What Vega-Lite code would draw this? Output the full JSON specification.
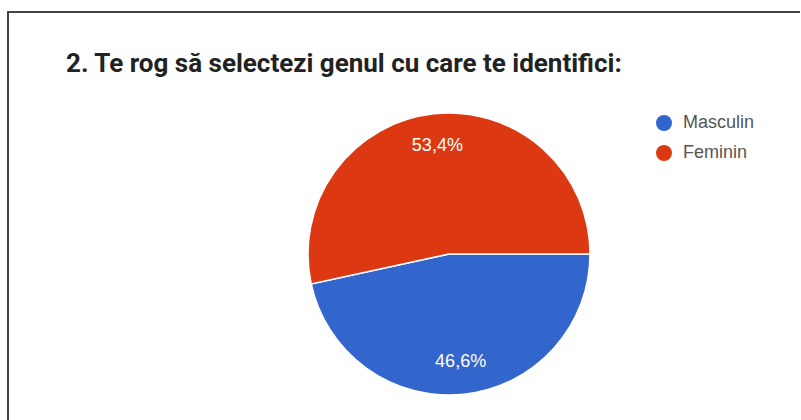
{
  "$schema": "https://vega.github.io/schema/vega-lite/v6.json",
  "autosize": "none",
  "width": 793,
  "height": 408,
  "padding": {"left": 8, "top": 12, "right": 0, "bottom": 0},
  "background": "#ffffff",
  "view": {
    "stroke": "#444444",
    "strokeWidth": 2,
    "strokeDash": [792, 1202, 408]
  },
  "title": {
    "text": "2. Te rog să selectezi genul cu care te identifici:",
    "anchor": "start",
    "frame": "group",
    "orient": "top",
    "offset": -86,
    "dx": 58,
    "baseline": "alphabetic",
    "font": "Roboto",
    "fontSize": 26,
    "fontWeight": "bold",
    "color": "#222222"
  },
  "data": {
    "values": [
      {"gen": "Masculin", "pct": 46.6, "label": "46,6%"},
      {"gen": "Feminin", "pct": 53.4, "label": "53,4%"}
    ]
  },
  "encoding": {
    "theta": {
      "field": "pct",
      "type": "quantitative",
      "stack": true,
      "scale": {"domain": [0, 100], "range": [1.5707963, 7.8539816]}
    },
    "order": {"field": "pct", "sort": "ascending"}
  },
  "layer": [
    {
      "mark": {
        "type": "arc",
        "outerRadius": 141,
        "x": {"expr": "width/2 + 44.5"},
        "y": {"expr": "height/2 + 38"},
        "stroke": "#ffffff",
        "strokeWidth": 1.5
      },
      "encoding": {
        "color": {
          "field": "gen",
          "type": "nominal",
          "scale": {"domain": ["Masculin", "Feminin"], "range": ["#3366cc", "#dc3912"]},
          "legend": {
            "title": null,
            "orient": "none",
            "legendX": 647,
            "legendY": 102,
            "padding": 0,
            "symbolType": "circle",
            "symbolSize": 256,
            "symbolStrokeWidth": 0,
            "labelFont": "Liberation Sans",
            "labelFontSize": 18,
            "labelColor": "#555555",
            "labelOffset": 10,
            "rowPadding": 12
          }
        }
      }
    },
    {
      "mark": {
        "type": "text",
        "radius": 109,
        "x": {"expr": "width/2 + 44.5"},
        "y": {"expr": "height/2 + 38"},
        "font": "Liberation Sans",
        "fontSize": 18,
        "color": "#ffffff",
        "baseline": "middle",
        "align": "center"
      },
      "encoding": {
        "text": {"field": "label", "type": "nominal"},
        "detail": {"field": "gen", "type": "nominal"}
      }
    }
  ]
}
